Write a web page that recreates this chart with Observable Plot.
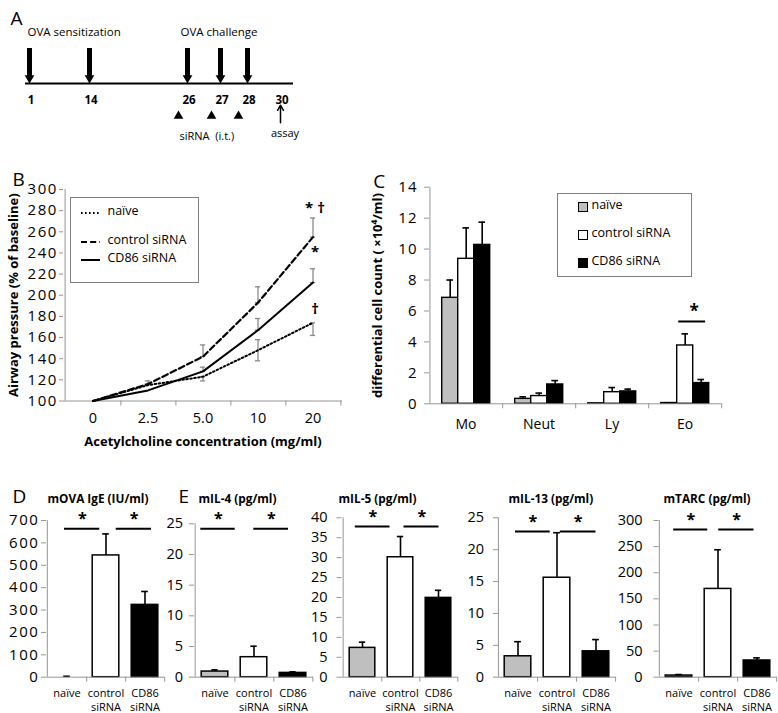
<!DOCTYPE html>
<html><head><meta charset="utf-8">
<script src="https://cdn.jsdelivr.net/npm/d3@7"></script>
<script src="https://cdn.jsdelivr.net/npm/@observablehq/plot@0.6"></script>
<style>
body{margin:0;background:#fff;}
#fig{position:relative;width:778px;height:713px;overflow:hidden;background:#fff;font-family:"Open Sans",sans-serif;color:#000;}
.panel{position:absolute;}
.wide g[aria-label="y-axis tick label"] text{letter-spacing:1.6px;font-size:15px;}
.mid g[aria-label="y-axis tick label"] text{letter-spacing:1px;font-size:15px;}
.legend{position:absolute;border:1px solid #7f7f7f;background:#fff;box-sizing:border-box;}
.lg{position:absolute;font-size:12.5px;line-height:1;white-space:nowrap;}
</style></head><body><div id="fig"></div>
<script>
// ---------------- DATA ----------------
// Panel A (schedule, days)
const timelineStart = 0, timelineEnd = 31.5;
const sensitizationDays = [1, 14];
const challengeDays = [26, 27, 28];
const sirnaDays = [26, 27, 28];
const dayLabels = [1, 14, 26, 27, 28, 30];
const assayDay = 30;

// Panel B (airway pressure, % of baseline)
const achConc = ["0", "2.5", "5.0", "10", "20"];
const seriesNames = ["naïve", "control siRNA", "CD86 siRNA"];
const bNaive   = [100, 115, 123, 148, 174];
const bControl = [100, 116, 142, 193, 255];
const bCD86    = [100, 110, 128, 167, 212];
const bNaiveErrLo   = [null, null, 119, 138, 162];
const bNaiveErrHi   = [null, null, 123, 158, 174];
const bControlErrLo = [null, 116, 142, 193, 255];
const bControlErrHi = [null, 119, 153, 208, 273];
const bCD86ErrLo    = [null, null, 128, 167, 212];
const bCD86ErrHi    = [null, null, 132, 178, 225];
const bTicks = [100, 120, 140, 160, 180, 200, 220, 240, 260, 280, 300];
const bMarks = [{conc: "20", y: 282, text: "* †"}, {conc: "20", y: 241, text: "*"}, {conc: "20", y: 187, text: "†"}];

// Panel C (differential cell count, x10^4/ml)
const cellTypes = ["Mo", "Neut", "Ly", "Eo"];
const cNaive      = [6.85, 0.32, 0.03, 0.05];
const cNaiveErr   = [1.15, 0.13, 0, 0];
const cControl    = [9.37, 0.5, 0.75, 3.77];
const cControlErr = [2.0, 0.19, 0.3, 0.75];
const cCD86       = [10.27, 1.25, 0.8, 1.34];
const cCD86Err    = [1.47, 0.25, 0.15, 0.23];
const cTicks = [0, 2, 4, 6, 8, 10, 12, 14];
const cSig = {type: "Eo", from: "control siRNA", to: "CD86 siRNA", y: 5.32};

// Panels D / E
const groupLabels = ["naïve", "control\nsiRNA", "CD86\nsiRNA"];
const igeValues = [0, 544, 323],      igeErrors = [4, 96, 60];
const il4Values = [0.92, 3.26, 0.7],  il4Errors = [0.28, 1.79, 0.17];
const il5Values = [7.36, 30.1, 19.9], il5Errors = [1.43, 5.2, 1.9];
const il13Values = [3.28, 15.6, 4.06], il13Errors = [2.29, 7.06, 1.84];
const tarcValues = [3.2, 169, 32],    tarcErrors = [1.9, 75, 5];
const igeTicks = [0, 100, 200, 300, 400, 500, 600, 700];
const il4Ticks = [0, 5, 10, 15, 20, 25];
const il5Ticks = [0, 5, 10, 15, 20, 25, 30, 35, 40];
const il13Ticks = [0, 5, 10, 15, 20, 25];
const tarcTicks = [0, 50, 100, 150, 200, 250, 300];
const igeSig = 663, il4Sig = 24.2, il5Sig = 37.8, il13Sig = 22.85, tarcSig = 282.8;

// ---------------- STYLE ----------------
const AX = "#969696";
const GRAY = "#bfbfbf";
const FONT = "Open Sans";
const fig = document.getElementById("fig");
function place(el, left, top) {
  const d = document.createElement("div");
  d.className = "panel"; d.style.left = left + "px"; d.style.top = top + "px";
  d.appendChild(el); fig.appendChild(d);
}
const baseStyle = (fs) => ({fontFamily: FONT, fontSize: fs + "px", background: "transparent", overflow: "visible", color: "black"});

// ---------------- PANEL A ----------------
const armDays = sensitizationDays.concat(challengeDays);
const plotA = Plot.plot({
  width: 320, height: 155, margin: 0,
  style: baseStyle(11),
  x: {type: "linear", domain: [timelineStart, 1, 14, 26, 27, 28, 30, timelineEnd], range: [25, 29, 89, 187, 220, 247, 280, 293], axis: null},
  y: {domain: [0, 1], range: [83, 48], axis: null},
  marks: [
    Plot.ruleY([0], {x1: timelineStart, x2: timelineEnd, strokeWidth: 2}),
    Plot.ruleX(armDays, {x: d => d, y1: 0.16, y2: 1, strokeWidth: 5}),
    Plot.dot(armDays, {x: d => d, y: 0.157, symbol: "triangle", r: 3.6, fill: "black", rotate: 180}),
    Plot.text(dayLabels, {x: d => d, y: 0, dy: 17, dx: 1.5, text: d => String(d), fontWeight: "bold", fontSize: 11.5}),
    Plot.dot(sirnaDays, {x: d => d, y: -0.93, dx: -9, symbol: "triangle", r: 3.6, fill: "black"}),
    Plot.text(["siRNA\u00a0\u00a0(i.t.)"], {x: sirnaDays[0], y: 0, dx: -8, dy: 53, text: d => d, textAnchor: "start", fontSize: 11}),
    Plot.arrow([assayDay], {x1: d => d, x2: d => d, y1: -1.12, y2: -0.62, strokeWidth: 1.5, headLength: 6}),
    Plot.text(["assay"], {x: assayDay, y: 0, dx: 4.5, dy: 50, text: d => d, fontSize: 11}),
    Plot.text(["OVA sensitization"], {x: sensitizationDays[0], y: 1, dx: -2, dy: -16, text: d => d, textAnchor: "start", fontSize: 11.5}),
    Plot.text(["OVA challenge"], {x: challengeDays[0], y: 1, dx: -7, dy: -16, text: d => d, textAnchor: "start", fontSize: 11.5}),
    Plot.text(["A"], {frameAnchor: "top-left", dx: 10, dy: 11, text: d => d, textAnchor: "start", fontSize: 19})
  ]
});
place(plotA, 0, 0);

// ---------------- PANEL B ----------------
const bSeries = [
  {name: seriesNames[0], v: bNaive, lo: bNaiveErrLo, hi: bNaiveErrHi},
  {name: seriesNames[1], v: bControl, lo: bControlErrLo, hi: bControlErrHi},
  {name: seriesNames[2], v: bCD86, lo: bCD86ErrLo, hi: bCD86ErrHi}
];
const bLineStyle = [
  {strokeDasharray: "1.6,2.4", strokeWidth: 2},
  {strokeDasharray: "6,3.2", strokeWidth: 2.2},
  {strokeWidth: 2}
];
const bPts = [], bErr = [];
bSeries.forEach(s => achConc.forEach((c, i) => {
  bPts.push({series: s.name, conc: c, v: s.v[i]});
  if (s.lo[i] != null) bErr.push({series: s.name, conc: c, lo: s.lo[i], hi: s.hi[i]});
}));
const bW = 345, bML = 63, bMR = 3;
const bStep = (bW - bML - bMR) / achConc.length;
const bCap = (bStep - 6) / 2;
const plotB = Plot.plot({
  width: bW, height: 301, marginLeft: bML, marginRight: bMR, marginTop: 29, marginBottom: 60.5,
  className: "wide",
  style: baseStyle(14.5),
  x: {type: "band", domain: achConc, padding: 0},
  y: {domain: [100, 300]},
  marks: [
    Plot.ruleY([100], {stroke: AX}),
    Plot.ruleX([achConc[0]], {x: d => d, dx: -bStep / 2, stroke: AX}),
    Plot.axisY({ticks: bTicks, tickSize: 4, tickPadding: 1.5, stroke: AX, fill: "black", label: null}),
    Plot.axisX({tickSize: 0, tickPadding: 12, fill: "black", label: null}),
    Plot.axisX({tickSize: 5, tickFormat: () => "", dx: bStep / 2, stroke: AX, label: null}),
    Plot.ruleX(bErr, {x: "conc", y1: "lo", y2: "hi", stroke: "#8a8a8a", strokeWidth: 1.3}),
    Plot.tickY(bErr, {x: "conc", y: "lo", stroke: "#8a8a8a", strokeWidth: 1.3, insetLeft: bCap, insetRight: bCap}),
    Plot.tickY(bErr, {x: "conc", y: "hi", stroke: "#8a8a8a", strokeWidth: 1.3, insetLeft: bCap, insetRight: bCap}),
    ...bSeries.map((s, k) => Plot.line(bPts.filter(d => d.series === s.name), {x: "conc", y: "v", stroke: "black", ...bLineStyle[k]})),
    Plot.text(bMarks, {x: "conc", y: "y", text: "text", dx: 2, fontWeight: "bold", fontSize: 15}),
    Plot.text(["Airway pressure (% of baseline)"], {frameAnchor: "left", textAnchor: "middle", dx: -50, rotate: -90, text: d => d, fontWeight: "bold", fontSize: 13}),
    Plot.text(["Acetylcholine concentration (mg/ml)"], {frameAnchor: "bottom", dy: 45, text: d => d, fontWeight: "bold", fontSize: 13}),
    Plot.text(["B"], {frameAnchor: "top-left", dx: -51, dy: -17, text: d => d, textAnchor: "start", fontSize: 19})
  ]
});
place(plotB, 0, 160);

// legend B (HTML)
(function () {
  const box = document.createElement("div");
  box.className = "legend";
  Object.assign(box.style, {left: "70px", top: "197px", width: "129px", height: "86px"});
  fig.appendChild(box);
  const rowY = [213.3, 241.7, 260];
  seriesNames.forEach((name, k) => {
    const ns = "http://www.w3.org/2000/svg";
    const svg = document.createElementNS(ns, "svg");
    svg.setAttribute("width", 20); svg.setAttribute("height", 6);
    Object.assign(svg.style, {position: "absolute", left: "81px", top: (rowY[k] - 3) + "px"});
    const ln = document.createElementNS(ns, "line");
    ln.setAttribute("x1", 0); ln.setAttribute("x2", 19); ln.setAttribute("y1", 3); ln.setAttribute("y2", 3);
    ln.setAttribute("stroke", "black"); ln.setAttribute("stroke-width", bLineStyle[k].strokeWidth);
    if (bLineStyle[k].strokeDasharray) ln.setAttribute("stroke-dasharray", bLineStyle[k].strokeDasharray);
    svg.appendChild(ln); fig.appendChild(svg);
    const t = document.createElement("div");
    t.className = "lg"; t.textContent = name;
    Object.assign(t.style, {left: "107.5px", top: (rowY[k] - 8) + "px"});
    fig.appendChild(t);
  });
})();

// ---------------- PANEL C ----------------
const cSeries = [[cNaive, cNaiveErr], [cControl, cControlErr], [cCD86, cCD86Err]];
const cData = [];
cellTypes.forEach((t, i) => seriesNames.forEach((s, k) => cData.push({type: t, series: s, v: cSeries[k][0][i], e: cSeries[k][1][i]})));
const cErr = cData.filter(d => d.e > 0);
const cW = 448, cML = 98.3, cMR = 56.3;
const cStep = (cW - cML - cMR) / cellTypes.length;
const cPadOuter = 0.735;
const cBand = cStep / (seriesNames.length + 2 * cPadOuter);
const cCap = (cBand - 7) / 2;
const plotC = Plot.plot({
  width: cW, height: 300, marginLeft: cML, marginRight: cMR, marginTop: 26.7, marginBottom: 56.7,
  className: "mid",
  style: baseStyle(14),
  fx: {domain: cellTypes, padding: 0, label: null},
  x: {domain: seriesNames, paddingInner: 0, paddingOuter: cPadOuter, axis: null},
  y: {domain: [0, 14]},
  color: {domain: seriesNames, range: [GRAY, "white", "black"]},
  marks: [
    Plot.barY(cData, {fx: "type", x: "series", y: "v", fill: "series", stroke: "black", strokeWidth: 1.4}),
    Plot.ruleX(cErr, {fx: "type", x: "series", y1: "v", y2: d => d.v + d.e, stroke: "black", strokeWidth: 1.6}),
    Plot.tickY(cErr, {fx: "type", x: "series", y: d => d.v + d.e, stroke: "black", strokeWidth: 1.6, insetLeft: cCap, insetRight: cCap}),
    Plot.ruleY([0], {stroke: AX}),
    Plot.ruleX([{t: cellTypes[0]}], {fx: "t", x: () => seriesNames[0], dx: -(cPadOuter * cBand + cBand / 2), stroke: AX}),
    Plot.axisY({ticks: cTicks, tickSize: 5, tickPadding: 7, stroke: AX, fill: "black", label: null}),
    Plot.axisFx({anchor: "bottom", tickSize: 0, tickPadding: 15, fill: "black", label: null, fontSize: 14}),
    Plot.axisFx({anchor: "bottom", tickSize: 5, tickFormat: () => "", dx: cStep / 2, stroke: AX, label: null}),
    Plot.ruleY([cSig], {fx: "type", y: "y", x1: "from", x2: "to", strokeWidth: 2, insetLeft: 1.5, insetRight: 3.6}),
    Plot.text([cSig], {fx: "type", x: "from", y: "y", dx: 9, dy: -10, text: () => "*", fontWeight: "bold", fontSize: 17}),
    Plot.text([{t: cellTypes[0]}], {fx: "t", frameAnchor: "left", textAnchor: "middle", dx: -51.6, rotate: -90, text: () => "differential cell count ( ×10⁴/ml)", fontWeight: "bold", fontSize: 13}),
    Plot.text([{t: cellTypes[0]}], {fx: "t", frameAnchor: "top-left", dx: -56.3, dy: -13, textAnchor: "start", text: () => "C", fontSize: 19})
  ]
});
place(plotC, 330, 160);

// legend C (HTML)
(function () {
  const box = document.createElement("div");
  box.className = "legend";
  Object.assign(box.style, {left: "556.7px", top: "192.7px", width: "135px", height: "84px"});
  fig.appendChild(box);
  const rowY = [206.7, 235, 262.5];
  const fills = [GRAY, "white", "black"];
  seriesNames.forEach((name, k) => {
    const sq = document.createElement("div");
    Object.assign(sq.style, {position: "absolute", left: "578px", top: (rowY[k] - 5) + "px", width: "10px", height: "10px", background: fills[k], border: "1.5px solid black", boxSizing: "border-box"});
    fig.appendChild(sq);
    const t = document.createElement("div");
    t.className = "lg"; t.textContent = name;
    Object.assign(t.style, {left: "591.5px", top: (rowY[k] - 8) + "px"});
    fig.appendChild(t);
  });
})();

// ---------------- PANELS D / E ----------------
function barPanel(o) {
  const data = seriesNames.map((g, i) => ({g, v: o.values[i], e: o.errors[i]}));
  const err = data.filter(d => d.e > 0);
  const step = (o.fr - o.fl) / 3;
  const cap = (step - 7) / 2;
  const ft = o.ft, fb = 676.7, top = 460, height = 253;
  const sigs = [
    {from: seriesNames[0], to: seriesNames[1], y: o.sigY, L: o.sig[0][0], R: o.sig[0][1]},
    {from: seriesNames[1], to: seriesNames[2], y: o.sigY, L: o.sig[1][0], R: o.sig[1][1]}
  ];
  const marks = [
    Plot.barY(data, {x: "g", y: "v", fill: "g", stroke: "black", strokeWidth: 1.5, insetLeft: 6.2, insetRight: 6.2}),
    Plot.ruleX(err, {x: "g", y1: "v", y2: d => d.v + d.e, stroke: "black", strokeWidth: 1.6}),
    Plot.tickY(err, {x: "g", y: d => d.v + d.e, stroke: "black", strokeWidth: 1.6, insetLeft: cap, insetRight: cap}),
    Plot.ruleY([0], {stroke: AX}),
    Plot.ruleX([seriesNames[0]], {x: d => d, dx: -step / 2, stroke: AX}),
    Plot.axisY({ticks: o.ticks, tickSize: 5, tickPadding: o.tp, stroke: AX, fill: "black", label: null}),
    Plot.axisX({tickSize: 0, tickPadding: 9.5, fill: "black", label: null, fontSize: 11, lineHeight: 1.3,
      tickFormat: d => groupLabels[seriesNames.indexOf(d)]}),
    Plot.axisX({tickSize: 5, tickFormat: () => "", dx: step / 2, stroke: AX, label: null}),
    ...sigs.map(s => Plot.ruleY([s], {y: "y", x1: "from", x2: "to", strokeWidth: 2, insetLeft: s.L, insetRight: s.R})),
    ...sigs.map(s => Plot.text([s], {x: "from", y: "y", dx: (s.L - s.R + step) / 2, dy: -9.5, text: () => "*", fontWeight: "bold", fontSize: 16})),
    Plot.text([o.title], {frameAnchor: "top-left", textAnchor: "start", dx: o.titleDx, dy: 494 - ft, text: d => d, fontWeight: "bold", fontSize: 11.8})
  ];
  if (o.letter) marks.push(Plot.text([o.letter], {frameAnchor: "top-left", textAnchor: "start", dx: o.letterDx, dy: 488.5 - ft, text: d => d, fontSize: 19}));
  const svg = Plot.plot({
    width: o.width, height, marginLeft: o.fl - o.left, marginRight: o.left + o.width - o.fr,
    marginTop: ft - top, marginBottom: top + height - fb,
    className: o.cls || "plain",
    style: baseStyle(14.5),
    x: {type: "band", domain: seriesNames, padding: 0},
    y: {domain: [0, o.ticks[o.ticks.length - 1]]},
    color: {domain: seriesNames, range: [GRAY, "white", "black"]},
    marks
  });
  place(svg, o.left, top);
}

barPanel({left: 0, width: 175, fl: 46, fr: 164, ft: 520, tp: 2, cls: "wide",
  values: igeValues, errors: igeErrors, ticks: igeTicks, sigY: igeSig, sig: [[17, 25.7], [29.7, 13]],
  title: "mOVA IgE (IU/ml)", titleDx: 1, letter: "D", letterDx: -34});
barPanel({left: 150, width: 170, fl: 194, fr: 313, ft: 523.3, tp: 6.5,
  values: il4Values, errors: il4Errors, ticks: il4Ticks, sigY: il4Sig, sig: [[5.3, 38.3], [19.3, 24]],
  title: "mIL-4 (pg/ml)", titleDx: 4, letter: "E", letterDx: -16});
barPanel({left: 312, width: 150, fl: 341.5, fr: 457.5, ft: 517.3, tp: 9.5,
  values: il5Values, errors: il5Errors, ticks: il5Ticks, sigY: il5Sig, sig: [[11.8, 29.5], [22.5, 18.5]],
  title: "mIL-5 (pg/ml)", titleDx: -3.5});
barPanel({left: 462, width: 160, fl: 498, fr: 615.5, ft: 517.3, tp: 9.5,
  values: il13Values, errors: il13Errors, ticks: il13Ticks, sigY: il13Sig, sig: [[17, 26.3], [22.8, 19.5]],
  title: "mIL-13 (pg/ml)", titleDx: 10});
barPanel({left: 615, width: 163, fl: 658.5, fr: 776.5, ft: 520, tp: 11.5,
  values: tarcValues, errors: tarcErrors, ticks: tarcTicks, sigY: tarcSig, sig: [[14.2, 29.8], [20.2, 22.5]],
  title: "mTARC (pg/ml)", titleDx: 4.5});
</script></body></html>
